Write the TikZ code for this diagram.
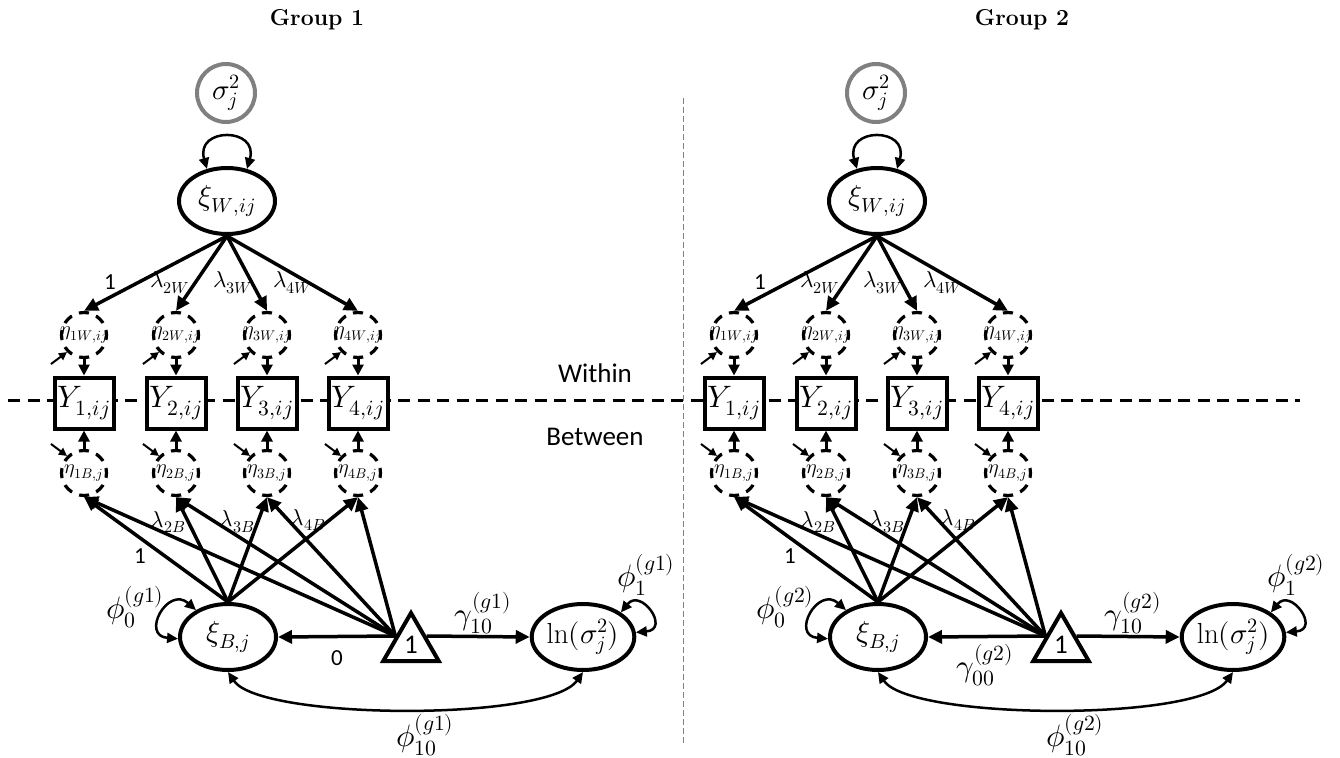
\documentclass[tikz,border=0pt]{standalone}
\usepackage{fontspec}
\usepackage{unicode-math}
\setmathfont{Latin Modern Math}
\newfontfamily\calib{Carlito}
\usetikzlibrary{arrows.meta,shapes.geometric}
\definecolor{siggray}{HTML}{808080}
\begin{document}
\begin{tikzpicture}[x=1pt,y=-1pt,
  lat/.style={draw,ellipse,line width=4pt,minimum width=96pt,minimum height=66pt,inner sep=0pt,fill=white,font=\fontsize{29}{32}\selectfont},
  sig/.style={draw=siggray,circle,line width=4pt,minimum size=58pt,inner sep=0pt,font=\fontsize{29}{32}\selectfont},
  res/.style={draw,circle,line width=3.2pt,minimum size=45pt,inner sep=0pt,dash pattern=on 10pt off 7.67pt,dash phase=5pt},
  rlab/.style={inner sep=0pt,font=\fontsize{20}{22}\selectfont},
  obs/.style={draw,rectangle,line width=4pt,minimum width=59pt,minimum height=51pt,inner sep=0pt,fill=white,font=\fontsize{31}{34}\selectfont},
  tri/.style={draw,regular polygon,regular polygon sides=3,line width=4pt,minimum size=64pt,inner sep=0pt,fill=white,font=\calib\fontsize{27}{30}\selectfont},
  arr/.style={line width=3.5pt,-{Triangle[length=14pt,width=13pt]}},
  sarr/.style={line width=3pt,-{Triangle[length=11pt,width=11pt]}},
  loopar/.style={line width=2.5pt,{Triangle[length=11pt,width=10pt]}-{Triangle[length=11pt,width=10pt]}},
  resar/.style={line width=2pt,-{Triangle[length=8pt,width=8pt]}},
  lab/.style={inner sep=0pt,font=\fontsize{23}{26}\selectfont},
  plab/.style={inner sep=0pt,font=\fontsize{31}{34}\selectfont},
  num/.style={inner sep=0pt,font=\calib\fontsize{23}{26}\selectfont},
  side/.style={inner sep=0pt,font=\calib\fontsize{27}{30}\selectfont},
  title/.style={inner sep=0pt,font=\bfseries\fontsize{23}{26}\selectfont}
]
\useasboundingbox (0,0) rectangle (1340,757);
\fill[white] (0,0) rectangle (1340,757);

% dividers
\draw[line width=3pt,dash pattern=on 12pt off 7.5pt] (8,400) -- (1300,400);
\draw[siggray,line width=1pt,dash pattern=on 6pt off 3pt] (683,98) -- (683,745);

\node[title] (t1) at (317,20) {Group 1};
\node[title] (t2) at (1022,20) {Group 2};
\node[side] (within) at (595,373) {Within};
\node[side] (between) at (595,437) {Between};

\foreach \g/\dx/\gl in {1/0/g1,2/650/g2} {
\begin{scope}[xshift=\dx pt]
  \node[sig] (sig\g) at (226,93) {$\sigma_j^2$};
  \node[lat] (xiW\g) at (227,201) {$\xi_{W,ij}$};
  \draw[loopar] (xiW\g.122) .. controls +(-12,-42) and +(12,-42) .. (xiW\g.58);
  \node[lat] (xiB\g) at (228,637) {$\xi_{B,j}$};
  \node[tri] (T\g) at (411,645) {1};
  \node[lat] (ln\g) at (583,637) {$\ln(\sigma_j^2)$};
  \foreach \i/\x in {1/84,2/176,3/267,4/358} {
    \node[obs] (Y\i\g) at (\x,403) {$Y_{\i,ij}$};
    \node[res,label={[rlab]center:$\eta_{\i W,ij}$}] (eW\i\g) at (\x,335) {};
    \node[res,label={[rlab]center:$\eta_{\i B,j}$}] (eB\i\g) at (\x,473) {};
    \draw[arr] (xiW\g.south) -- (eW\i\g.north);
    \draw[sarr] (eW\i\g.south) -- (Y\i\g.north);
    \draw[sarr] (eB\i\g.north) -- (Y\i\g.south);
    \draw[resar] ([shift={(-16,12)}]eW\i\g.225) -- (eW\i\g.225);
    \draw[resar] ([shift={(-16,-12)}]eB\i\g.135) -- (eB\i\g.135);
    \draw[arr] (xiB\g.north) -- (eB\i\g.south);
    \draw[arr] (T\g.side 1) -- (eB\i\g.south);
  }
  \draw[arr] (T\g.side 1) -- (xiB\g.east);
  \draw[arr] (T\g.side 3) -- (ln\g.west);
  \draw[loopar] (xiB\g.140) .. controls +(-28,-25) and +(-38,-3) .. (xiB\g.182);
  \draw[loopar] (ln\g.33) .. controls +(20,-25) and +(35,-3) .. (ln\g.5);
  \draw[loopar] (xiB\g.south) .. controls +(32,48) and +(-35,50) .. (ln\g.south);

  \node[num] (one\g) at (110,282) {1};
  \node[lab] (l2W\g) at (170,283) {$\lambda_{2W}$};
  \node[lab] (l3W\g) at (233,283) {$\lambda_{3W}$};
  \node[lab] (l4W\g) at (293,283) {$\lambda_{4W}$};
  \node[num] (oneB\g) at (140,556) {1};
  \node[lab] (l2B\g) at (168,522) {$\lambda_{2B}$};
  \node[lab] (l3B\g) at (237,522) {$\lambda_{3B}$};
  \node[lab] (l4B\g) at (308,520) {$\lambda_{4B}$};
  \node[plab] (p0\g) at (135,607) {$\phi_0^{(\gl)}$};
  \node[plab] (g10\g) at (483,613) {$\gamma_{10}^{(\gl)}$};
  \node[plab] (p1\g) at (646,575) {$\phi_1^{(\gl)}$};
  \node[plab] (p10\g) at (425,735) {$\phi_{10}^{(\gl)}$};
\end{scope}
}
\node[num] (zero1) at (337,658) {0};
\node[plab] (g002) at (985,665) {$\gamma_{00}^{(g2)}$};
\end{tikzpicture}
\end{document}
